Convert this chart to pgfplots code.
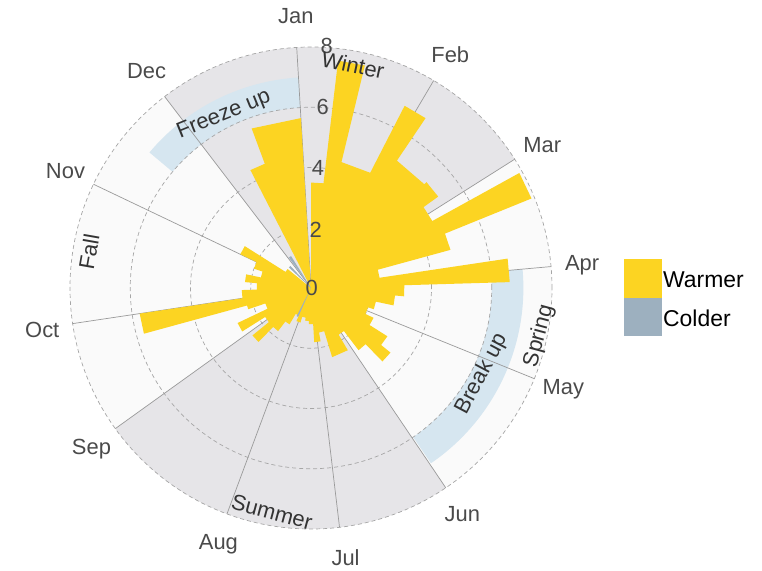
\documentclass[border=0pt]{standalone}
\usepackage{fontspec}
\setmainfont{Liberation Sans}
\usepackage{pgfplots}
\usepackage{pgfplotstable}
\pgfplotsset{compat=1.18}
\usepgfplotslibrary{polar}
\definecolor{warm}{HTML}{FCD422}
\definecolor{cold}{HTML}{9DB0BF}
\definecolor{gsec}{HTML}{E6E5E8}
\definecolor{band}{HTML}{D6E6F0}
\definecolor{inner}{HTML}{FAFAFA}
\definecolor{gridc}{HTML}{A6A6A6}
\definecolor{spoke}{HTML}{9A9A9A}
\definecolor{mtext}{HTML}{4A4A4A}

% compass angle (degrees clockwise from Jan at top), radius
\pgfplotstableread{
a r
-27.2 0
-27.2 4.4
-20.4 4.4
-20.4 5.65
-3.4 5.65
-3.4 0
0 0
0 3.5
6.8 3.5
6.8 7.6
13.6 7.6
13.6 4.3
27.2 4.3
27.2 6.8
34.0 6.8
34.0 5.1
47.5 5.1
47.5 5.2
54.3 5.2
54.3 4.6
61.1 4.6
61.1 7.9
67.9 7.9
67.9 4.8
74.7 4.8
74.7 2.3
81.5 2.3
81.5 6.6
88.3 6.6
88.3 3.1
95.1 3.1
95.1 2.8
101.9 2.8
101.9 2.2
108.7 2.2
108.7 2.0
115.5 2.0
115.5 2.3
122.3 2.3
122.3 3.0
129.1 3.0
129.1 3.4
135.8 3.4
135.8 2.6
142.6 2.6
142.6 1.8
149.4 1.8
149.4 2.4
163.0 2.4
163.0 1.5
169.8 1.5
169.8 1.8
176.6 1.8
176.6 1.2
183.4 1.2
183.4 1.1
190.2 1.1
190.2 1.0
197.0 1.0
197.0 1.2
203.8 1.2
203.8 1.0
210.6 1.0
210.6 1.4
217.4 1.4
217.4 1.8
224.2 1.8
224.2 2.5
231.0 2.5
231.0 1.8
237.7 1.8
237.7 2.7
244.5 2.7
244.5 1.6
251.3 1.6
251.3 2.2
254.7 2.2
254.7 5.75
261.5 5.75
261.5 2.3
268.3 2.3
268.3 1.8
275.1 1.8
275.1 2.2
281.9 2.2
281.9 1.7
288.7 1.7
288.7 2.0
295.5 2.0
295.5 2.6
302.3 2.6
302.3 1.0
309.1 1.0
309.1 0
}\warmdata

\pgfplotstableread{
a r
313 0
313 1.0
317 1.0
317 0
324 0
324 1.25
328 1.25
328 0
}\colddata

\pgfplotstableread{
a r
204 0
204 1.05
207 1.05
207 0
}\colddatab

\begin{document}
\begin{tikzpicture}
\useasboundingbox (0,0) rectangle (762bp,571bp);
\begin{scope}[shift={(311bp,283bp)}, x=30.125bp, y=30.125bp]
  \fill[inner] (0,0) circle[radius=8];
  \fill[gsec] (0,0) -- (32.3:8) arc[start angle=32.3,end angle=127.4,radius=8] -- cycle;
  \fill[gsec] (0,0) -- (-144.3:8) arc[start angle=-144.3,end angle=-56,radius=8] -- cycle;
  \fill[band] (93.4:6) arc[start angle=93.4,end angle=140,radius=6] -- (140:7) arc[start angle=140,end angle=93.4,radius=7] -- cycle;
  \fill[band] (5.1:6) arc[start angle=5.1,end angle=-55.6,radius=6] -- (-55.6:7.05) arc[start angle=-55.6,end angle=5.1,radius=7.05] -- cycle;
  \foreach \r in {2,4,6,8} \draw[gridc, dash pattern=on 4bp off 3bp, line width=0.7bp] (0,0) circle[radius=\r];
  \foreach \t in {356.6,30.6,57.7,84.9,112.1,146.0,173.2,200.4,234.3,261.5,295.5,322.6}
    \draw[spoke, line width=0.7bp] (0,0) -- ({90-\t}:8);
\end{scope}

\begin{polaraxis}[at={(311bp,283bp)}, anchor=origin, width=482bp, height=482bp,
  scale only axis, ymin=0, ymax=8, xmin=0, xmax=360,
  axis line style={draw=none}, xtick=\empty, ytick=\empty, clip=false]
  \addplot[draw=none, fill=warm] table[x expr={90-\thisrow{a}}, y=r] {\warmdata};
  \addplot[draw=none, fill=cold] table[x expr={90-\thisrow{a}}, y=r] {\colddata};
  \addplot[draw=none, fill=cold] table[x expr={90-\thisrow{a}}, y=r] {\colddatab};
\end{polaraxis}

\begin{scope}[shift={(311bp,283bp)}, x=30.125bp, y=30.125bp, font=\fontsize{22}{26}\selectfont]
  \foreach \t/\m in {-3.2/Jan,30.8/Feb,58.2/Mar,85.2/Apr,111.9/May,146.2/Jun,172.7/Jul,199.9/Aug,233.8/Sep,261.1/Oct,295.5/Nov,322.8/Dec}
    \node[text=mtext, anchor=center, inner sep=0pt] at ({90-\t}:9.03) {\m};
\end{scope}

\begin{scope}[font=\fontsize{22}{26}\selectfont, text=mtext]
  \node[inner sep=0pt] at (311.7bp,283bp) {0};
  \node[inner sep=0pt] at (315.7bp,341bp) {2};
  \node[inner sep=0pt] at (318bp,403bp) {4};
  \node[inner sep=0pt] at (322.7bp,464bp) {6};
  \node[inner sep=0pt] at (326.7bp,525bp) {8};
\end{scope}

\begin{scope}[font=\fontsize{22}{26}\selectfont, text=black!80]
  \node[rotate=-12, inner sep=0pt] at (353bp,506bp) {Winter};
  \node[rotate=22, inner sep=0pt] at (224bp,456bp) {Freeze up};
  \node[rotate=80, inner sep=0pt] at (89bp,319bp) {Fall};
  \node[rotate=75, inner sep=0pt] at (539bp,235bp) {Spring};
  \node[rotate=62, inner sep=0pt] at (482bp,197bp) {Break up};
  \node[rotate=-15, inner sep=0pt] at (272bp,59bp) {Summer};
\end{scope}

\fill[warm] (624bp,273bp) rectangle (662bp,312bp);
\fill[cold] (624bp,235bp) rectangle (662bp,273bp);
\node[anchor=west, inner sep=1pt, font=\fontsize{23}{27}\selectfont] at (662bp,291bp) {Warmer};
\node[anchor=west, inner sep=1pt, font=\fontsize{23}{27}\selectfont] at (662bp,253bp) {Colder};
\end{tikzpicture}
\end{document}
